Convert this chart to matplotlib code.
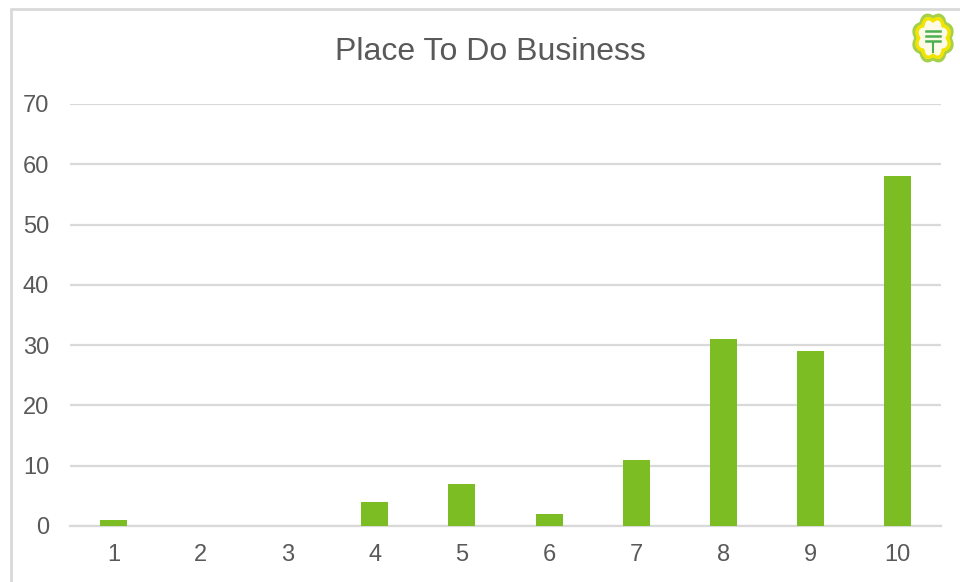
import numpy as np
import matplotlib
matplotlib.use("Agg")
import matplotlib.pyplot as plt
from matplotlib.patches import Polygon, Rectangle

# Ratings 1-10 and number of responses for each
ratings = ["1", "2", "3", "4", "5", "6", "7", "8", "9", "10"]
counts = [1, 0, 0, 4, 7, 2, 11, 31, 29, 58]
y_ticks = [0, 10, 20, 30, 40, 50, 60, 70]
title = "Place To Do Business"

plt.rcParams["font.family"] = ["Liberation Sans", "DejaVu Sans"]

text_color = "#595959"
grid_color = "#d9d9d9"
bar_color = "#7bbd22"

fig = plt.figure(figsize=(9.6, 5.82), dpi=100)

# outer chart frame
fig.patches.append(Rectangle((11 / 960, -0.05), 1.2, 1 - 9 / 582 + 0.05,
                             transform=fig.transFigure, fill=False,
                             edgecolor="#d9d9d9", linewidth=2.0, zorder=0))

ax = fig.add_axes([70 / 960, 1 - 526 / 582, 871 / 960, (526 - 104) / 582])
x = np.arange(1, len(ratings) + 1)
ax.bar(x, counts, width=0.31, color=bar_color, zorder=3)

ax.set_xlim(0.5, len(ratings) + 0.5)
ax.set_ylim(0, 70)
ax.set_yticks(y_ticks)
ax.set_xticks(x)
ax.set_xticklabels(ratings)
ax.yaxis.grid(True, color=grid_color, linewidth=1.6, zorder=0)
ax.set_axisbelow(True)
for side in ("top", "right", "left"):
    ax.spines[side].set_visible(False)
ax.spines["bottom"].set_color(grid_color)
ax.spines["bottom"].set_linewidth(1.6)
ax.tick_params(axis="both", length=0, labelsize=17, colors=text_color)
ax.tick_params(axis="y", pad=15)
ax.tick_params(axis="x", pad=13)

fig.text(490 / 960, 1 - 52 / 582, title, ha="center", va="center",
         fontsize=23, color=text_color)

# small emblem in the top-right corner
cx, cy, rx, ry = 933, 38, 20, 24
theta = np.linspace(0, 2 * np.pi, 600)
shape = 0.84 + 0.16 * np.abs(np.cos(4 * (theta + np.pi / 8)))
px = (cx + rx * shape * np.cos(theta)) / 960
py = 1 - (cy + ry * shape * np.sin(theta)) / 582
fig.patches.append(Polygon(np.column_stack([px, py]), closed=True,
                           transform=fig.transFigure, facecolor="#fdfbe8",
                           edgecolor="#a6d04a", linewidth=2.5, zorder=5))
px2 = (cx + rx * 0.85 * shape * np.cos(theta)) / 960
py2 = 1 - (cy + ry * 0.85 * shape * np.sin(theta)) / 582
fig.patches.append(Polygon(np.column_stack([px2, py2]), closed=True,
                           transform=fig.transFigure, facecolor="none",
                           edgecolor="#f0e400", linewidth=2.5, zorder=6))
for dy in (-7, -2, 3):
    fig.lines.append(plt.Line2D([(cx - 7) / 960, (cx + 7) / 960],
                                [1 - (cy + dy) / 582] * 2,
                                transform=fig.transFigure, color="#4caf50",
                                linewidth=1.8, zorder=7))
fig.lines.append(plt.Line2D([cx / 960, cx / 960],
                            [1 - (cy + 5) / 582, 1 - (cy + 14) / 582],
                            transform=fig.transFigure, color="#4caf50",
                            linewidth=1.5, zorder=7))

fig.savefig("out.png", dpi=100, facecolor="white")
